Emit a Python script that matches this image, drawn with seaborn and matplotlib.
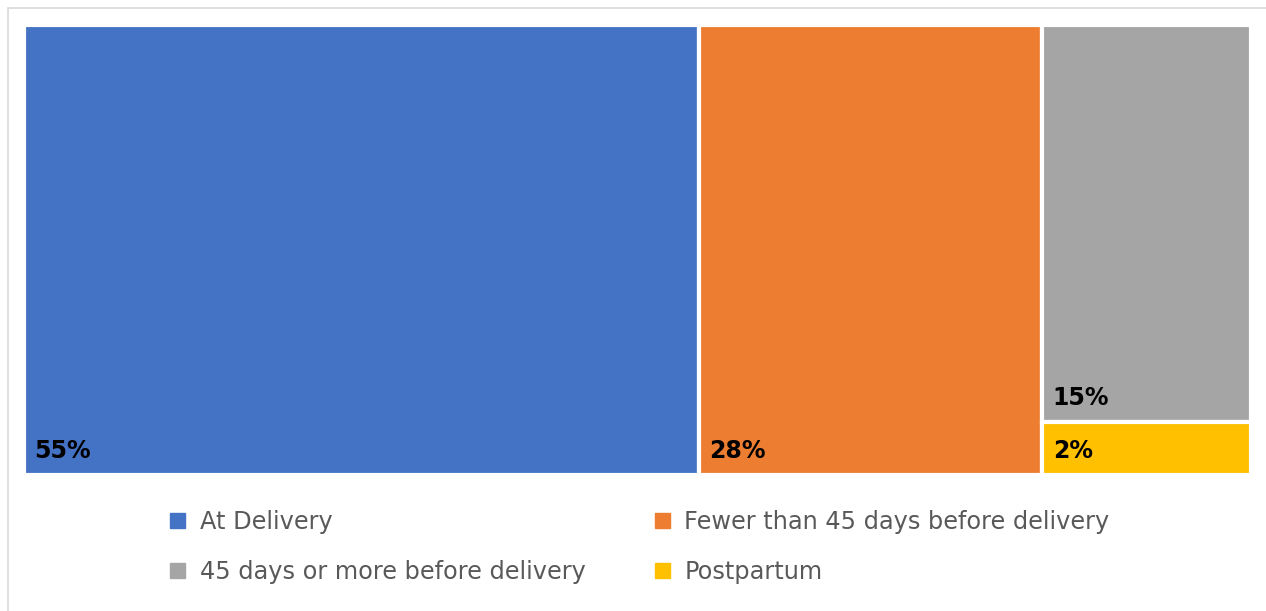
import seaborn as sns
import matplotlib.pyplot as plt
from matplotlib.patches import Patch, Rectangle

# treemap data
categories = ["At Delivery", "Fewer than 45 days before delivery",
              "45 days or more before delivery", "Postpartum"]
values = [55, 28, 15, 2]
labels = ["55%", "28%", "15%", "2%"]
colors = ["#4472C4", "#ED7D31", "#A5A5A5", "#FFC000"]


def treemap_rects(vals):
    # first two blocks are full-height columns, last two share a stacked column
    total = sum(vals)
    rects = []
    x = 0.0
    for v in vals[:2]:
        w = v / total
        rects.append((x, 0.0, w, 1.0))
        x += w
    rest = vals[2:]
    w = sum(rest) / total
    y = 1.0
    for v in rest:
        h = v / sum(rest)
        y -= h
        rects.append((x, y, w, h))
    return rects


sns.set_theme(style="white")
plt.rcParams['font.family'] = ['DejaVu Sans']

fig = plt.figure(figsize=(12.66, 6.11), dpi=100)
ax = fig.add_axes([24 / 1266, 1 - 475 / 611, 1227 / 1266, 450 / 611])

rects = treemap_rects(values)
for (x, y, w, h), c, lab in zip(rects, colors, labels):
    ax.bar(x, h, width=w, bottom=y, align="edge", color=c,
           edgecolor="white", linewidth=3)
    ax.annotate(lab, xy=(x, y), xytext=(7.5, 12), textcoords="offset points",
                fontsize=17, fontweight="bold", color="black",
                ha="left", va="baseline")

ax.set_xlim(0, 1)
ax.set_ylim(0, 1)
ax.axis("off")

# outer light border of the chart area
fig.patches.append(Rectangle((8 / 1266, -0.1), 1.2, 1 - 8 / 611 + 0.1,
                             transform=fig.transFigure, fill=False,
                             edgecolor="#D9D9D9", linewidth=1.2))

handles = [Patch(color=c, label=l) for c, l in zip(colors, categories)]
order = [0, 2, 1, 3]
fig.legend([handles[i] for i in order], [categories[i] for i in order],
           ncol=2, loc="center", bbox_to_anchor=(640 / 1266, 1 - 547 / 611),
           frameon=False, fontsize=17.3, labelcolor="#595959",
           handlelength=0.62, handleheight=0.62, handletextpad=0.6,
           columnspacing=2.9, labelspacing=1.08)

fig.savefig("out.png", dpi=100)
